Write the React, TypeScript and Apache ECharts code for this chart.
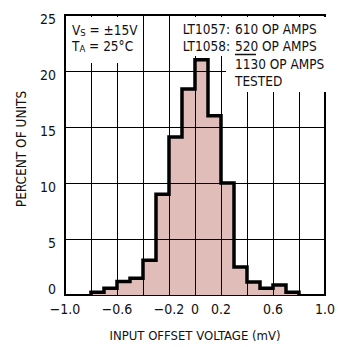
import React, { useEffect, useRef } from "react";
import * as echarts from "echarts";

// Histogram bin edges (mV) and percent of units in each bin
const binEdges = [-0.8, -0.7, -0.6, -0.5, -0.4, -0.3, -0.2, -0.1, 0, 0.1, 0.2, 0.3, 0.4, 0.5, 0.6, 0.7, 0.8];
const percents = [0.25, 0.6, 1.2, 1.5, 3.1, 9.0, 14.1, 18.4, 21.0, 16.0, 10.0, 2.5, 1.15, 0.6, 0.9, 0.25];

// Tick labels shown on the x axis (others are blank)
const xTickLabels: Record<string, string> = {
  "-1.0": "\u22121.0",
  "-0.6": "\u22120.6",
  "-0.2": "\u22120.2",
  "0.0": "0",
  "0.2": "0.2",
  "0.6": "0.6",
  "1.0": "1.0",
};
const yTicks = [0, 5, 10, 15, 20, 25];

const FONT = "'Liberation Sans Narrow', 'Arial Narrow', 'DejaVu Sans Condensed', sans-serif";
const ANN = 13.5;

export default function App() {
  const ref = useRef<HTMLDivElement>(null);
  useEffect(() => {
    if (!ref.current) return;
    const chart = echarts.init(ref.current, null, { renderer: "svg" });

    const pts: number[][] = [[binEdges[0], 0]];
    for (let i = 0; i < percents.length; i++) pts.push([binEdges[i], percents[i]]);
    pts.push([binEdges[binEdges.length - 1], 0]);

    const txt = (x: number, y: number, text: string, align = "left") => ({
      type: "text",
      z: 5,
      style: { x, y, text, align, verticalAlign: "middle", fontFamily: FONT, fontSize: ANN, fill: "#111" },
    });

    const subText = (y: number, text: string) => ({
      type: "text",
      z: 5,
      style: {
        x: 72,
        y,
        text,
        fontFamily: FONT,
        fontSize: ANN,
        fill: "#111",
        verticalAlign: "middle",
        lineHeight: 14,
        rich: { s: { fontFamily: FONT, fontSize: 9.5, fill: "#111", lineHeight: 8, verticalAlign: "bottom" } },
      },
    });

    chart.setOption({
      animation: false,
      backgroundColor: "#fff",
      grid: {
        left: 65,
        right: 10,
        top: 15,
        bottom: 46,
        show: true,
        borderColor: "#000",
        borderWidth: 2,
        backgroundColor: "#fff",
      },
      xAxis: {
        type: "value",
        min: -1,
        max: 1,
        interval: 0.2,
        z: 3,
        axisLine: { show: false },
        axisTick: { show: false },
        splitLine: { show: true, lineStyle: { color: "#000", width: 1 } },
        axisLabel: {
          margin: 7,
          color: "#111",
          fontFamily: FONT,
          fontSize: 14,
          formatter: (v: number) => xTickLabels[(Math.round(v * 10) / 10).toFixed(1)] ?? "",
        },
        name: "INPUT OFFSET VOLTAGE (mV)",
        nameLocation: "middle",
        nameGap: 34,
        nameTextStyle: { color: "#111", fontFamily: FONT, fontSize: 13 },
      },
      yAxis: {
        type: "value",
        min: 0,
        max: 25,
        interval: 5,
        z: 3,
        axisLine: { show: false },
        axisTick: { show: false },
        splitLine: { show: true, lineStyle: { color: "#000", width: 1 } },
        axisLabel: {
          margin: 9,
          color: "#111",
          fontFamily: FONT,
          fontSize: 14,
          formatter: (v: number) => (yTicks.indexOf(v) === 0 ? `{z|${v}}` : `{a|${v}}`),
          rich: {
            a: { fontFamily: FONT, fontSize: 14, color: "#111", padding: [7, 0, 0, 0] },
            z: { fontFamily: FONT, fontSize: 14, color: "#111", padding: [0, 0, 12, 0] },
          },
        },
        name: "PERCENT OF UNITS",
        nameLocation: "middle",
        nameGap: 37,
        nameTextStyle: { color: "#111", fontFamily: FONT, fontSize: 13.5, padding: [0, 0, 0, 12] },
      },
      graphic: [
        { type: "rect", z: 4, shape: { x: 67, y: 17, width: 72, height: 46 }, style: { fill: "#fff" } },
        { type: "rect", z: 4, shape: { x: 183, y: 17, width: 143, height: 39 }, style: { fill: "#fff" } },
        { type: "rect", z: 4, shape: { x: 226, y: 56, width: 100, height: 36 }, style: { fill: "#fff" } },
        subText(30, "V{s|S} = \u00b115V"),
        subText(46, "T{s|A} = 25\u00b0C"),
        txt(230, 29, "LT1057:", "right"),
        txt(235, 29, "610 OP AMPS"),
        txt(230, 45.5, "LT1058:", "right"),
        txt(235, 45.5, "520 OP AMPS"),
        txt(235, 64, "1130 OP AMPS"),
        txt(235, 80.5, "TESTED"),
        { type: "line", z: 5, shape: { x1: 235, y1: 54.5, x2: 256, y2: 54.5 }, style: { stroke: "#111", lineWidth: 1.5 } },
      ],
      series: [
        {
          type: "line",
          step: "end",
          data: pts,
          showSymbol: false,
          symbol: "none",
          lineStyle: { color: "#000", width: 3.5, join: "miter" },
          areaStyle: { color: "#e0bdb8", opacity: 1 },
          z: 2,
        },
      ],
    });
    return () => chart.dispose();
  }, []);
  return <div ref={ref} style={{ width: 338, height: 347, position: "absolute", left: 0, top: 0 }} />;
}
